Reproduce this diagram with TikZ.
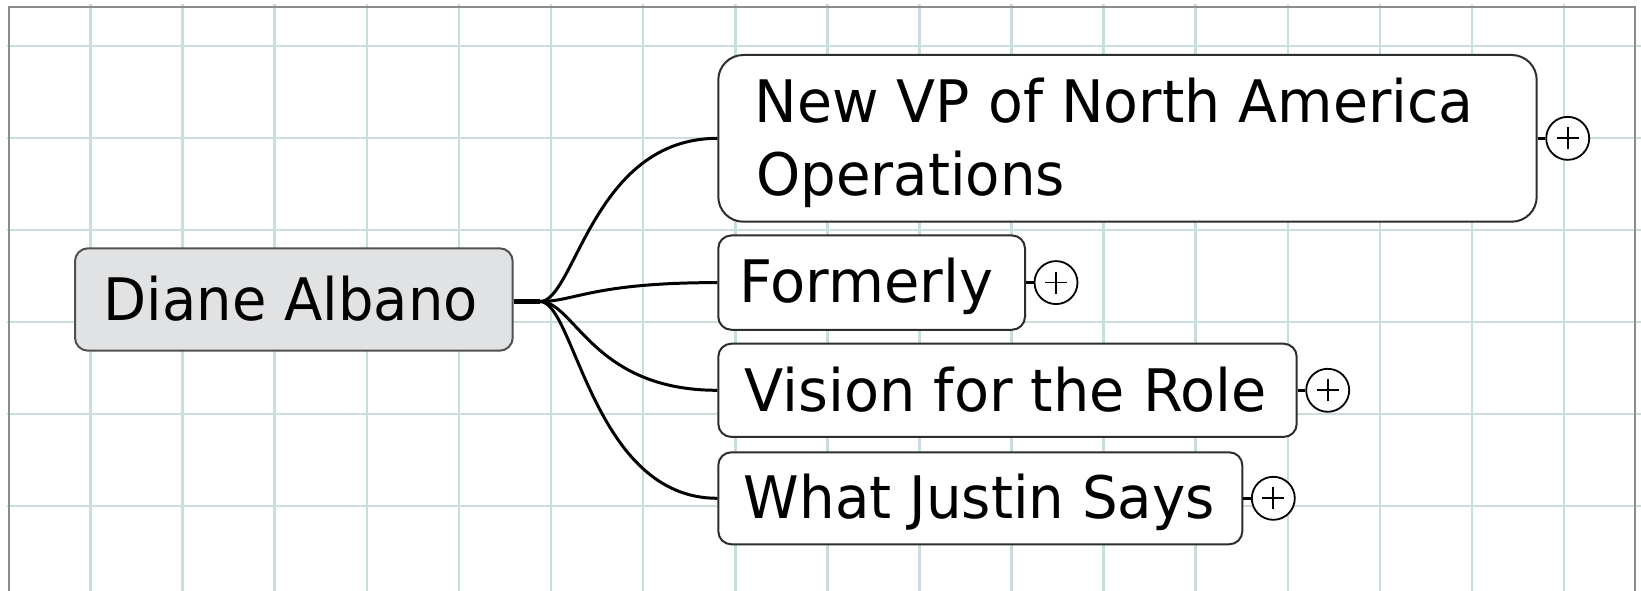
\documentclass[tikz,border=0pt]{standalone}
\usepackage{fontspec}
\setmainfont{DejaVu Sans}
\usepackage{graphicx}
\definecolor{gridc}{RGB}{200,222,222}
\definecolor{framec}{RGB}{140,140,140}
\definecolor{rootfill}{RGB}{225,226,228}
\definecolor{rootdraw}{RGB}{80,80,80}
\definecolor{boxdraw}{RGB}{45,45,45}
\tikzset{
  gridline/.style={draw=gridc, line width=2.6pt},
  framel/.style={draw=framec, line width=2.4pt},
  rootbox/.style={draw=rootdraw, fill=rootfill, line width=2pt, rounded corners=13pt, inner sep=0pt},
  topicbox/.style={draw=boxdraw, fill=white, line width=2pt, rounded corners=13pt, inner sep=0pt},
  bigbox/.style={topicbox, rounded corners=25pt},
  txt/.style={inner sep=0pt, anchor=base west, text=black, font=\fontsize{58.6pt}{72.5pt}\selectfont},
  conn/.style={draw=black, line width=3pt},
  hubline/.style={draw=black, line width=4.5pt},
  stub/.style={draw=black, line width=2.5pt},
  plusbtn/.style={circle, draw=black, fill=white, line width=1.8pt, minimum size=43pt, inner sep=0pt,
    path picture={\draw[line width=1.7pt] ([xshift=-11pt]path picture bounding box.center) -- ([xshift=11pt]path picture bounding box.center);
                  \draw[line width=1.7pt] ([yshift=-11pt]path picture bounding box.center) -- ([yshift=11pt]path picture bounding box.center);}},
}
\begin{document}
\begin{tikzpicture}[x=1pt, y=-1pt]
\useasboundingbox (0,0) rectangle (1641,591);
\fill[white] (0,0) rectangle (1641,591);
% grid
\begin{scope}
\clip (7,4) rectangle (1641,591);
\foreach \k in {0,...,16} { \draw[gridline] ({90.5+92.1*\k},4) -- ({90.5+92.1*\k},591); }
\foreach \k in {0,...,5} { \draw[gridline] (7,{46+92*\k}) -- (1641,{46+92*\k}); }
\end{scope}
% frame
\draw[framel] (9,591) -- (9,7) -- (1635,7) -- (1635,591);

% boxes
\node[rootbox, minimum width=437.7pt, minimum height=102.4pt] (da) at (293.85,299.5) {};
\node[bigbox, minimum width=818.4pt, minimum height=166.7pt] (vp) at (1127.5,138.35) {};
\node[topicbox, minimum width=306.7pt, minimum height=94.3pt] (fo) at (871.65,282.6) {};
\node[topicbox, minimum width=578.4pt, minimum height=93.2pt] (vi) at (1007.5,390.3) {};
\node[topicbox, minimum width=524pt, minimum height=92pt] (wj) at (980.3,498.3) {};

% texts
\node[txt] (tda) at (103.6,320.7) {\resizebox{374pt}{\height}{Diane Albano}};
\node[txt] (tvp1) at (754.3,122.7) {\resizebox{719pt}{\height}{New VP of North America}};
\node[txt] (tvp2) at (756,195) {\resizebox{308.7pt}{\height}{Operations}};
\node[txt] (tfo) at (739.3,302.7) {\resizebox{254pt}{\height}{Formerly}};
\node[txt] (tvi) at (744.5,411.7) {\resizebox{522pt}{\height}{Vision for the Role}};
\node[txt] (twj) at (743.7,518.3) {\resizebox{471pt}{\height}{What Justin Says}};

% connectors
\coordinate (hub) at (540,301.5);
\draw[hubline] (da.east |- hub) -- (hub);
\draw[conn] (hub) .. controls +(35,0) and +(-125,0) .. (vp.west);
\draw[conn] (hub) .. controls +(35,0) and +(-125,0) .. (fo.west);
\draw[conn] (hub) .. controls +(35,0) and +(-125,0) .. (vi.west);
\draw[conn] (hub) .. controls +(35,0) and +(-125,0) .. (wj.west);

% expand buttons
\node[plusbtn] (pvp) at ([xshift=30pt]vp.east) {};
\node[plusbtn] (pfo) at ([xshift=30pt]fo.east) {};
\node[plusbtn] (pvi) at ([xshift=30pt]vi.east) {};
\node[plusbtn] (pwj) at ([xshift=30pt]wj.east) {};
\draw[stub] (vp.east) -- (pvp.west);
\draw[stub] (fo.east) -- (pfo.west);
\draw[stub] (vi.east) -- (pvi.west);
\draw[stub] (wj.east) -- (pwj.west);
\end{tikzpicture}
\end{document}
